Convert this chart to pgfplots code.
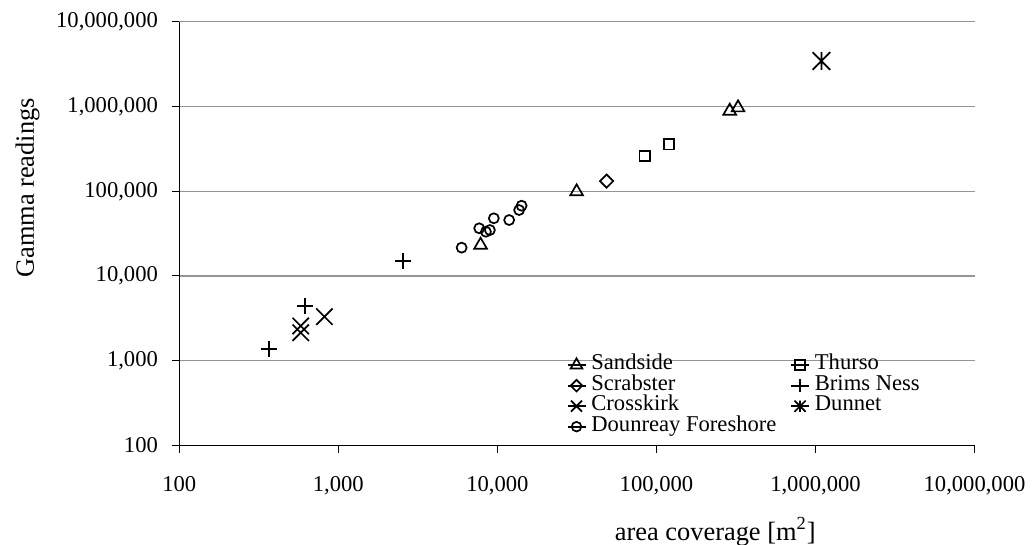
\documentclass[border=0pt]{standalone}
\usepackage{pgfplots}
\pgfplotsset{compat=1.18}
\usepackage{fontspec}
\setmainfont{Liberation Serif}

% star marker: a cross with a vertical bar through it
\pgfdeclareplotmark{xstar}{%
  \pgfpathmoveto{\pgfqpoint{-\pgfplotmarksize}{-\pgfplotmarksize}}%
  \pgfpathlineto{\pgfqpoint{\pgfplotmarksize}{\pgfplotmarksize}}%
  \pgfpathmoveto{\pgfqpoint{-\pgfplotmarksize}{\pgfplotmarksize}}%
  \pgfpathlineto{\pgfqpoint{\pgfplotmarksize}{-\pgfplotmarksize}}%
  \pgfpathmoveto{\pgfqpoint{0pt}{-\pgfplotmarksize}}%
  \pgfpathlineto{\pgfqpoint{0pt}{\pgfplotmarksize}}%
  \pgfusepathqstroke
}
% square-proportioned diamond
\pgfdeclareplotmark{rhomb}{%
  \pgfpathmoveto{\pgfqpoint{0pt}{\pgfplotmarksize}}%
  \pgfpathlineto{\pgfqpoint{\pgfplotmarksize}{0pt}}%
  \pgfpathlineto{\pgfqpoint{0pt}{-\pgfplotmarksize}}%
  \pgfpathlineto{\pgfqpoint{-\pgfplotmarksize}{0pt}}%
  \pgfpathclose
  \pgfusepathqstroke
}

\begin{document}
\begin{tikzpicture}
\path[use as bounding box] (-89.65bp,-49.8bp) rectangle (426.35bp,222.7bp);
\begin{axis}[
  at={(0,0)}, anchor=south west,
  scale only axis, width=397.6bp, height=211.75bp,
  xmode=log, ymode=log,
  xmin=100, xmax=1e7, ymin=100, ymax=1e7,
  axis x line*=bottom, axis y line*=left,
  axis line style={line width=0.5bp, black},
  xminorticks=false, yminorticks=false,
  tick align=outside, major tick length=3.6bp,
  tick style={line width=0.5bp, black},
  xtick={100,1000,10000,100000,1000000,10000000},
  xticklabels={100,{1,000},{10,000},{100,000},{1,000,000},{10,000,000}},
  ytick={100,1000,10000,100000,1000000,10000000},
  yticklabels={100,{1,000},{10,000},{100,000},{1,000,000},{10,000,000}},
  ymajorgrids, major grid style={line width=0.6bp, black!42},
  ticklabel style={font=\fontsize{11.3bp}{13bp}\selectfont},
  yticklabel style={xshift=-3.6bp},
  xticklabel style={yshift=-8.4bp},
  label style={font=\fontsize{13.2bp}{15bp}\selectfont},
  xlabel={area coverage [m\textsuperscript{2}]},
  xlabel style={at={(axis description cs:0.674,0)}, anchor=base, yshift=-47.3bp},
  ylabel={Gamma readings},
  ylabel style={at={(axis description cs:-0.1909,0.608)}, anchor=center},
  every axis plot/.append style={only marks, black, line width=0.85bp, mark options={solid, fill=none}},
  legend columns=2,
  legend cell align=left,
  legend image code/.code={%
    \path (-4.5bp,0bp) -- (4.5bp,0bp);
    \draw[mark repeat=2, mark phase=2, #1] plot coordinates {(-4.5bp,0bp)(0bp,0bp)(4.5bp,0bp)};
  },
  legend style={draw=none, fill=none,
    at={(axis description cs:0.4791,0.224)}, anchor=north west,
    font=\fontsize{11.3bp}{13bp}\selectfont,
    nodes={inner sep=0pt, text height=7.5bp, text depth=2.75bp},
    /tikz/column 1/.style={column sep=2.5bp},
    /tikz/column 2/.style={column sep=6.85bp},
    /tikz/column 3/.style={column sep=2.5bp}},
]
% Sandside
\addplot[mark=triangle, mark size=3.67bp,
  legend image post style={mark size=3.4bp}] coordinates {
  (7840,23200) (31500,99000) (289000,887000) (326000,970000)};
\addlegendentry{Sandside}
% Thurso
\addplot[mark=square, mark size=2.6bp,
  legend image post style={mark size=2.5bp}] coordinates {
  (84500,261000) (120000,359000)};
\addlegendentry{Thurso}
% Scrabster
\addplot[mark=rhomb, mark size=3.3bp,
  legend image post style={mark size=2.9bp}] coordinates {
  (48600,132000)};
\addlegendentry{Scrabster}
% Brims Ness
\addplot[mark=+, mark size=4.1bp,
  legend image post style={mark size=3.1bp}] coordinates {
  (368,1374) (617,4400) (2560,15000)};
\addlegendentry{Brims Ness}
% Crosskirk
\addplot[mark=x, mark size=5.8bp,
  legend image post style={mark size=3.9bp}] coordinates {
  (580,2570) (580,2140) (817,3310)};
\addlegendentry{Crosskirk}
% Dunnet
\addplot[mark=xstar, mark size=4.4bp,
  legend image post style={mark size=2.8bp}] coordinates {
  (1090000,3455000)};
\addlegendentry{Dunnet}
% Dounreay Foreshore
\addplot[mark=o, mark size=2.5bp,
  legend image post style={mark size=2.4bp}] coordinates {
  (5960,21600) (7690,36600) (8470,33300) (8970,34900)
  (9500,48000) (11860,45800) (13700,60100) (14200,67600)};
\addlegendentry{Dounreay Foreshore}
\end{axis}
\end{tikzpicture}
\end{document}
